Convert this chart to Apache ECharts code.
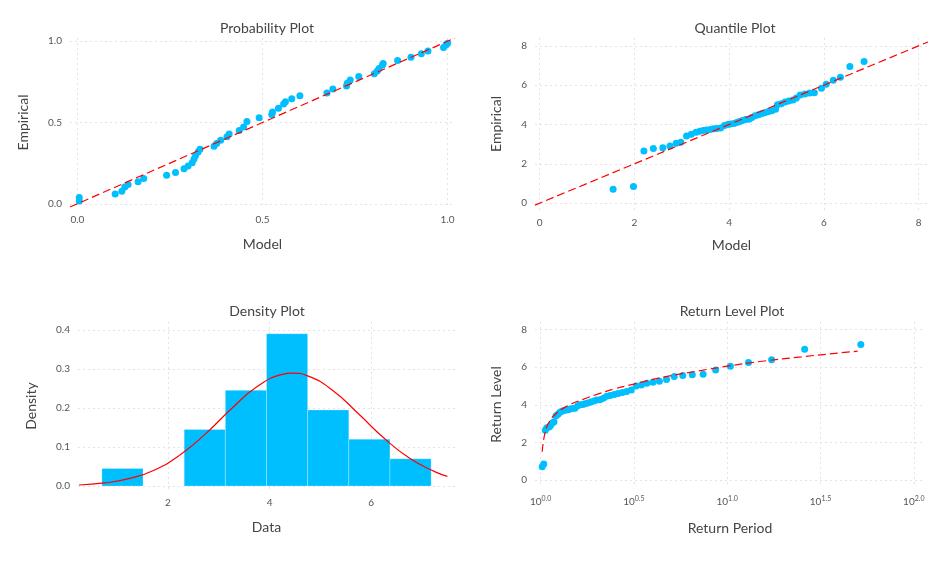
<!DOCTYPE html>
<html><head><meta charset="utf-8">
<script src="https://cdn.jsdelivr.net/npm/echarts@6/dist/echarts.min.js"></script>
<style>html,body{margin:0;background:#fff}#c{width:945px;height:567px}</style>
</head><body><div id="c"></div>
<script>
// probability plot: model cdf vs empirical
var probModel = [0.005,0.005,0.102,0.120,0.128,0.137,0.164,0.179,0.241,0.265,0.288,0.299,0.310,0.315,0.319,0.326,0.331,0.369,0.376,0.387,0.404,0.410,0.437,0.449,0.458,0.491,0.525,0.527,0.543,0.557,0.562,0.579,0.601,0.674,0.690,0.727,0.729,0.737,0.760,0.802,0.810,0.815,0.824,0.826,0.865,0.901,0.929,0.947,0.989,0.996,1.000];
var probEmp = [0.039,0.017,0.060,0.077,0.103,0.118,0.135,0.156,0.176,0.193,0.215,0.232,0.253,0.275,0.296,0.318,0.335,0.354,0.371,0.391,0.412,0.429,0.451,0.472,0.506,0.530,0.549,0.564,0.588,0.614,0.627,0.646,0.665,0.682,0.706,0.725,0.742,0.762,0.783,0.800,0.817,0.833,0.854,0.863,0.882,0.901,0.923,0.940,0.961,0.978,0.987];
// quantile plot
var qModel = [1.55,1.98,2.2,2.4,2.6,2.75,2.88,2.98,3.1,3.2,3.3,3.38,3.45,3.52,3.6,3.67,3.74,3.82,3.9,3.97,4.03,4.1,4.16,4.22,4.28,4.35,4.42,4.48,4.55,4.62,4.68,4.75,4.82,4.9,4.98,5.02,5.1,5.18,5.26,5.35,5.42,5.5,5.6,5.7,5.8,5.95,6.05,6.2,6.35,6.55,6.85];
var qEmp = [0.7,0.85,2.65,2.78,2.82,2.9,3.05,3.1,3.42,3.5,3.6,3.65,3.7,3.72,3.75,3.78,3.8,3.82,3.95,4.0,4.02,4.05,4.1,4.15,4.2,4.25,4.27,4.35,4.45,4.5,4.55,4.6,4.65,4.7,4.78,5.0,5.05,5.15,5.2,5.25,5.35,5.5,5.55,5.6,5.62,5.85,6.05,6.25,6.4,6.95,7.2];
// return level plot
var retPeriod = [1.02,1.04,1.06,1.08,1.11,1.13,1.16,1.18,1.21,1.24,1.27,1.30,1.33,1.37,1.41,1.44,1.49,1.53,1.58,1.63,1.68,1.73,1.79,1.86,1.93,2.0,2.08,2.17,2.26,2.36,2.48,2.6,2.74,2.89,3.06,3.25,3.47,3.71,4.0,4.33,4.73,5.2,5.78,6.5,7.43,8.67,10.4,13,17.3,26,52];
var fitPeriod = [1.02,1.05,1.1,1.2,1.4,1.7,2,2.5,3.16,4,5,7,10,15,25,50];
var fitLevel = [1.5,2.4,3.0,3.5,3.95,4.3,4.55,4.85,5.1,5.35,5.55,5.8,6.05,6.3,6.55,6.85];
// density plot
var binEdges = [0.70,1.51,2.32,3.13,3.94,4.75,5.56,6.37,7.18];
var binDensity = [0.045,0,0.145,0.245,0.39,0.195,0.12,0.07];
var pdfX = [0.25,0.75,1.25,1.75,2.25,2.75,3.25,3.75,4.25,4.45,4.75,5.25,5.75,6.25,6.75,7.25,7.5];
var pdfY = [0.0028,0.008,0.0196,0.042,0.081,0.135,0.198,0.254,0.286,0.289,0.282,0.244,0.185,0.123,0.072,0.037,0.025];

var txt = '#555', dot = '#00BFFF', font = 'Lato';
var split = {show:true, lineStyle:{color:'#e3e3e8', type:[2,3]}};
function ax(name, min, max, vals, gi, isY, fmt, gap) {
  var a = {type:'value', gridIndex:gi, min:min, max:max, name:name, nameLocation:'middle',
    nameGap:gap, nameTextStyle:{color:'#444', fontSize:14, fontFamily:font},
    axisLine:{show:false}, axisTick:{show:false, customValues:vals},
    axisLabel:{color:txt, fontSize:10, fontFamily:font, customValues:vals, formatter:fmt, rich:{s:{fontSize:7, color:txt, verticalAlign:'top', padding:[0,0,6,0]}}},
    splitLine:split};
  if (isY) a.nameRotate = 90;
  return a;
}
function f1(v){return v.toFixed(1);}
function pow(v){return '10{s|'+v.toFixed(1)+'}';}
var bars = [];
binDensity.forEach(function(d,i){ if(d>0) bars.push([binEdges[i],binEdges[i+1],d]); });
var option = {
  animation:false,
  title:[
    {text:'Probability Plot', left:262, top:16, textAlign:'center'},
    {text:'Quantile Plot', left:730, top:16, textAlign:'center'},
    {text:'Density Plot', left:262, top:299, textAlign:'center'},
    {text:'Return Level Plot', left:727, top:299, textAlign:'center'}
  ].map(function(t){t.textStyle={fontSize:14,fontWeight:'normal',color:'#444',fontFamily:font};return t;}),
  grid:[
    {left:70, width:385, top:38, height:169},
    {left:535, width:393, top:38, height:172},
    {left:78, width:377, top:322, height:168},
    {left:535, width:390, top:322, height:165}
  ],
  xAxis:[
    ax('Model',-0.02,1.02,[0,0.5,1],0,false,f1,30),
    ax('Model',-0.1,8.2,[0,2,4,6,8],1,false,null,28),
    ax('Data',0.23,7.65,[2,4,6],2,false,null,30),
    ax('Return Period',-0.03,2.06,[0,0.5,1,1.5,2],3,false,pow,34)
  ],
  yAxis:[
    ax('Empirical',-0.02,1.02,[0,0.5,1],0,true,f1,40),
    ax('Empirical',-0.35,8.4,[0,2,4,6,8],1,true,null,32),
    ax('Density',-0.01,0.42,[0,0.1,0.2,0.3,0.4],2,true,f1,40),
    ax('Return Level',-0.37,8.4,[0,2,4,6,8],3,true,null,32)
  ],
  series:[
    {type:'line', xAxisIndex:0, yAxisIndex:0, data:[[-0.02,-0.02],[1.02,1.02]], symbol:'none', lineStyle:{color:'#f00', width:1.2, type:[8,4]}},
    {type:'scatter', xAxisIndex:0, yAxisIndex:0, symbolSize:7, itemStyle:{color:dot, opacity:1}, data:probModel.map(function(x,i){return [x,probEmp[i]];})},
    {type:'line', xAxisIndex:1, yAxisIndex:1, data:[[-0.1,-0.1],[8.2,8.2]], symbol:'none', lineStyle:{color:'#f00', width:1.2, type:[8,4]}},
    {type:'scatter', xAxisIndex:1, yAxisIndex:1, symbolSize:7, itemStyle:{color:dot, opacity:1}, data:qModel.map(function(x,i){return [x,qEmp[i]];})},
    {type:'custom', xAxisIndex:2, yAxisIndex:2, data:bars,
     renderItem:function(p,api){
       var a=api.coord([api.value(0),api.value(2)]), b=api.coord([api.value(1),0]);
       return {type:'rect', shape:{x:a[0],y:a[1],width:b[0]-a[0],height:b[1]-a[1]}, style:{fill:dot, stroke:'rgba(255,255,255,0.5)', lineWidth:0.5}};
     }},
    {type:'line', xAxisIndex:2, yAxisIndex:2, smooth:true, symbol:'none', lineStyle:{color:'#f00', width:1.2}, data:pdfX.map(function(x,i){return [x,pdfY[i]];})},
    {type:'scatter', xAxisIndex:3, yAxisIndex:3, symbolSize:7, itemStyle:{color:dot, opacity:1}, data:retPeriod.map(function(t,i){return [Math.log10(t),qEmp[i]];})},
    {type:'line', xAxisIndex:3, yAxisIndex:3, smooth:true, symbol:'none', lineStyle:{color:'#f00', width:1.2, type:[8,4]}, data:fitPeriod.map(function(t,i){return [Math.log10(t),fitLevel[i]];})}
  ]
};
echarts.init(document.getElementById('c')).setOption(option);
</script></body></html>
